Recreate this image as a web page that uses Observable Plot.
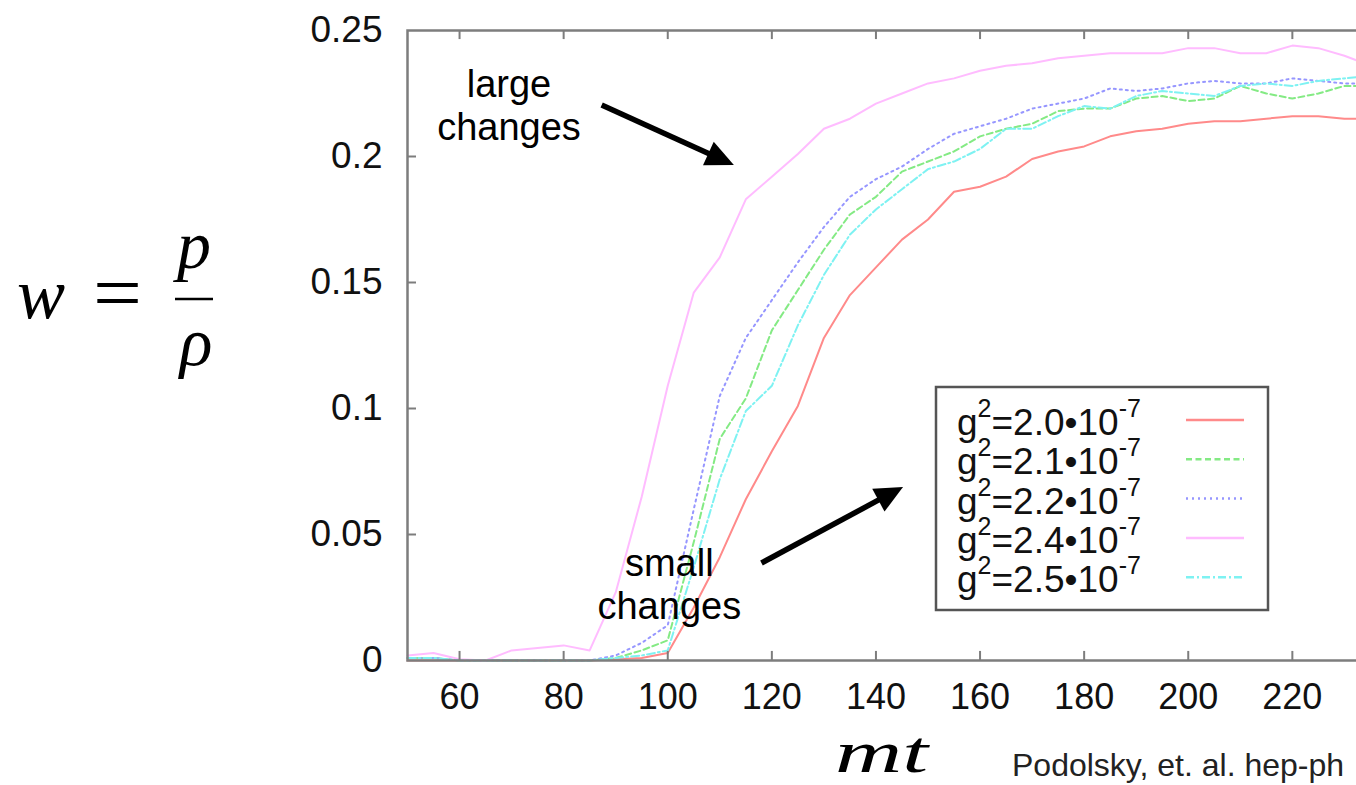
<!DOCTYPE html>
<html>
<head>
<meta charset="utf-8">
<script src="https://cdn.jsdelivr.net/npm/d3@7"></script>
<script src="https://cdn.jsdelivr.net/npm/@observablehq/plot@0.6"></script>
<style>
  html, body { margin: 0; padding: 0; background: #fff; overflow: hidden; width: 1356px; height: 785px; }
  #chart svg { display: block; max-width: none; overflow: hidden; }
</style>
</head>
<body>
<div id="chart"></div>
<script>
// Equation-of-state parameter w = p/rho versus mt, for several couplings g^2
const mt = [50, 55, 60, 65, 70, 75, 80, 85, 90, 95, 100, 105, 110, 115, 120, 125, 130, 135, 140,
            145, 150, 155, 160, 165, 170, 175, 180, 185, 190, 195, 200, 205, 210, 215, 220, 225, 230, 235];

const w20 = [0, 0, 0, 0, 0, 0, 0, 0, 0.0005, 0.001, 0.003, 0.021, 0.041, 0.064, 0.083, 0.101, 0.128, 0.145, 0.156,
             0.167, 0.175, 0.186, 0.188, 0.192, 0.199, 0.202, 0.204, 0.208, 0.210, 0.211, 0.213, 0.214, 0.214, 0.215, 0.216, 0.216, 0.215, 0.215];
const w21 = [0.001, 0.001, 0, 0, 0, 0, 0, 0, 0.001, 0.004, 0.008, 0.047, 0.088, 0.104, 0.131, 0.147, 0.163, 0.177, 0.184,
             0.194, 0.198, 0.202, 0.208, 0.211, 0.213, 0.218, 0.219, 0.219, 0.223, 0.224, 0.222, 0.223, 0.228, 0.225, 0.223, 0.225, 0.228, 0.228];
const w22 = [0.001, 0.001, 0, 0, 0, 0, 0, 0, 0.002, 0.007, 0.014, 0.060, 0.105, 0.128, 0.143, 0.158, 0.172, 0.184, 0.191,
             0.196, 0.203, 0.209, 0.212, 0.215, 0.219, 0.221, 0.223, 0.227, 0.226, 0.227, 0.229, 0.230, 0.229, 0.229, 0.231, 0.230, 0.229, 0.229];
const w24 = [0.002, 0.003, 0.0005, 0, 0.004, 0.005, 0.006, 0.004, 0.027, 0.065, 0.109, 0.146, 0.160, 0.183, 0.192, 0.201, 0.211, 0.215, 0.221,
             0.225, 0.229, 0.231, 0.234, 0.236, 0.237, 0.239, 0.240, 0.241, 0.241, 0.241, 0.243, 0.243, 0.241, 0.241, 0.244, 0.243, 0.240, 0.236];
const w25 = [0.001, 0.001, 0, 0, 0, 0, 0, 0, 0.001, 0.002, 0.004, 0.037, 0.072, 0.099, 0.109, 0.133, 0.153, 0.169, 0.179,
             0.187, 0.195, 0.198, 0.203, 0.211, 0.211, 0.216, 0.220, 0.219, 0.224, 0.226, 0.225, 0.224, 0.228, 0.229, 0.228, 0.230, 0.231, 0.232];

const couplings = ["2.0", "2.1", "2.2", "2.4", "2.5"];
const seriesValues = [w20, w21, w22, w24, w25];
const lineColors = ["#ff8a8a", "#84ea84", "#9696ff", "#ffbcff", "#7ef2f2"];
const lineDashes = [null, "6,3.5", "2,4", null, "8,3,2,3"];

const xTicks = [60, 80, 100, 120, 140, 160, 180, 200, 220];
const yTicks = [0, 0.05, 0.1, 0.15, 0.2, 0.25];

// Callout texts and arrows (tail -> head), in data coordinates
const notes = [
  {text: "large\nchanges", mt: 69.5, w: 0.2205},
  {text: "small\nchanges", mt: 100.3, w: 0.0306}
];
const arrows = [
  {mt1: 87.4, w1: 0.2202, mt2: 112.8, w2: 0.1964},
  {mt1: 118.1, w1: 0.0385, mt2: 145.3, w2: 0.0687}
];

const rows = couplings.flatMap((g, i) => mt.map((m, j) => ({mt: m, w: seriesValues[i][j], g})));

const frameColor = "#7d7d7d";
const tickLenY = 0.0036;  // inward tick length on the horizontal edges (in w units)
const tickLenX = 1.73;    // inward tick length on the vertical edge (in mt units)

const lineMarks = couplings.map((g, i) => {
  const opts = {x: "mt", y: "w", stroke: lineColors[i], strokeWidth: 2};
  if (lineDashes[i]) opts.strokeDasharray = lineDashes[i];
  return Plot.line(rows.filter(r => r.g === g), opts);
});

const plot = Plot.plot({
  width: 1460,
  height: 785,
  marginLeft: 407,
  marginRight: 12,
  marginTop: 30,
  marginBottom: 125,
  style: {fontFamily: "'Liberation Sans', Arial, Helvetica, sans-serif", fontSize: "32px", background: "#fff", color: "#111"},
  x: {domain: [50, 250]},
  y: {domain: [0, 0.25]},
  marks: [
    ...lineMarks,
    Plot.frame({stroke: frameColor, strokeWidth: 2.5}),
    Plot.ruleX(xTicks, {x: d => d, y1: 0, y2: tickLenY, stroke: frameColor, strokeWidth: 2}),
    Plot.ruleX(xTicks, {x: d => d, y1: 0.25 - tickLenY, y2: 0.25, stroke: frameColor, strokeWidth: 2}),
    Plot.ruleY(yTicks.slice(1, -1), {y: d => d, x1: 50, x2: 50 + tickLenX, stroke: frameColor, strokeWidth: 2}),
    Plot.axisX({ticks: xTicks, tickSize: 0, tickPadding: 23, fontSize: 36, label: null, tickFormat: d => String(d)}),
    Plot.axisY({ticks: yTicks, tickSize: 0, tickPadding: 25, fontSize: 37, label: null, tickFormat: d => String(d)}),
    Plot.text(notes, {x: "mt", y: "w", text: "text", fontSize: 38, lineHeight: 1.13, fill: "#000"})
  ]
});

document.getElementById("chart").append(plot);

const svg = d3.select(plot);
const sx = plot.scale("x"), sy = plot.scale("y");

// Filled arrows for the callouts
const arrowG = svg.append("g").attr("fill", "#000").attr("stroke", "#000");
arrows.forEach(a => {
  const x1 = sx.apply(a.mt1), y1 = sy.apply(a.w1);
  const x2 = sx.apply(a.mt2), y2 = sy.apply(a.w2);
  const dx = x2 - x1, dy = y2 - y1, len = Math.hypot(dx, dy);
  const ux = dx / len, uy = dy / len;
  const headLen = 28, halfW = 13;
  const bx = x2 - ux * headLen, by = y2 - uy * headLen;
  arrowG.append("line")
    .attr("x1", x1).attr("y1", y1).attr("x2", bx + ux * 2).attr("y2", by + uy * 2)
    .attr("stroke-width", 5.5);
  arrowG.append("polygon")
    .attr("stroke", "none")
    .attr("points", [[x2, y2], [bx - uy * halfW, by + ux * halfW], [bx + uy * halfW, by - ux * halfW]].map(p => p.join(",")).join(" "));
});

// Legend box
const legend = svg.append("g")
  .attr("font-family", "'Liberation Sans', Arial, Helvetica, sans-serif")
  .attr("text-anchor", "start")
  .attr("fill", "#111");
legend.append("rect")
  .attr("x", 936).attr("y", 387).attr("width", 332).attr("height", 223)
  .attr("fill", "#fff").attr("stroke", "#555").attr("stroke-width", 2.5);
couplings.forEach((c, i) => {
  const base = 435 + i * 39.3;
  const t = legend.append("text").attr("x", 957).attr("y", base).attr("font-size", 37);
  t.append("tspan").text("g");
  t.append("tspan").attr("font-size", 25).attr("dy", -18).text("2");
  t.append("tspan").attr("dy", 18).text(`=${c}\u202210`);
  t.append("tspan").attr("font-size", 25).attr("dy", -18).text("-7");
  const ln = legend.append("line")
    .attr("x1", 1186).attr("x2", 1244).attr("y1", base - 15).attr("y2", base - 15)
    .attr("stroke", lineColors[i]).attr("stroke-width", 2.5);
  if (lineDashes[i]) ln.attr("stroke-dasharray", lineDashes[i]);
});

// Axis titles set as math
const math = svg.append("g")
  .attr("font-family", "'Liberation Serif', 'Times New Roman', serif")
  .attr("text-anchor", "start")
  .attr("fill", "#000");
math.append("text").attr("x", 17).attr("y", 318).attr("font-size", 72).attr("font-style", "italic").text("w");
math.append("text").attr("x", 93).attr("y", 320).attr("font-size", 80)
  .attr("textLength", 49).attr("lengthAdjust", "spacingAndGlyphs").text("=");
math.append("text").attr("x", 194).attr("y", 268).attr("font-size", 68).attr("font-style", "italic").attr("text-anchor", "middle").text("p");
math.append("line").attr("x1", 175).attr("x2", 213).attr("y1", 299).attr("y2", 299).attr("stroke", "#000").attr("stroke-width", 2.5);
math.append("text").attr("x", 196).attr("y", 365).attr("font-size", 68).attr("font-style", "italic").attr("text-anchor", "middle").text("\u03c1");
math.append("text").attr("x", 835).attr("y", 771.5).attr("font-size", 60).attr("font-style", "italic")
  .attr("textLength", 93).attr("lengthAdjust", "spacingAndGlyphs").text("mt");

// Source note
svg.append("text")
  .attr("x", 1012).attr("y", 776)
  .attr("text-anchor", "start")
  .attr("font-family", "'Liberation Sans', Arial, Helvetica, sans-serif")
  .attr("font-size", 32).attr("fill", "#222")
  .text("Podolsky, et. al. hep-ph");
</script>
</body>
</html>
